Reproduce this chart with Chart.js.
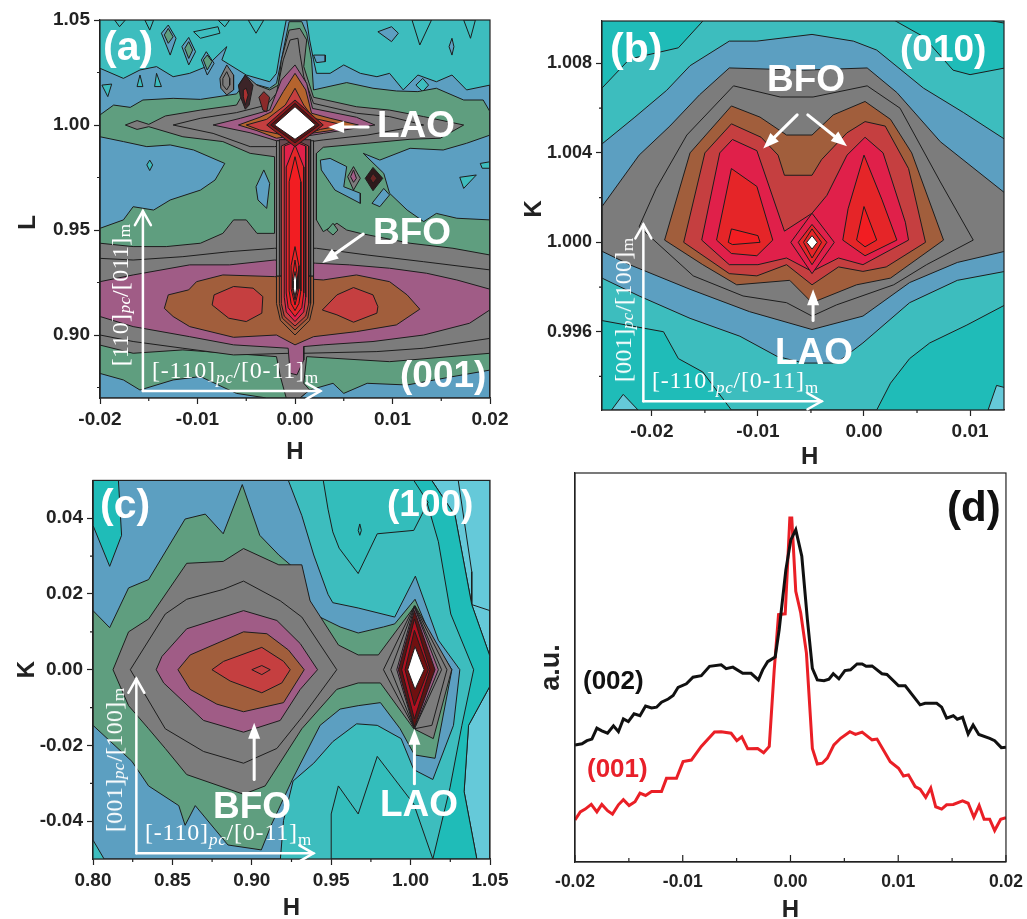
<!DOCTYPE html>
<html><head><meta charset="utf-8"><title>Reciprocal space maps</title>
<script src="https://cdn.jsdelivr.net/npm/chart.js@4"></script>
<style>
html,body{margin:0;padding:0;background:#fff;overflow:hidden}
#stage{position:relative;width:1027px;height:919px;overflow:hidden}
canvas{position:absolute;display:block;filter:blur(.45px)}
.t{position:absolute;font-family:"Liberation Sans",Arial,sans-serif;font-weight:700;color:#fff;line-height:1;white-space:nowrap;z-index:5}
.dir{position:absolute;font-family:"Liberation Serif",serif;color:#fff;font-size:24px;line-height:1;white-space:nowrap;z-index:5;letter-spacing:.8px}
.dir i{font-size:17px;position:relative;top:5px}
.dir span{font-size:17px;position:relative;top:5px}
.v{writing-mode:vertical-rl;transform:rotate(180deg);letter-spacing:.3px}
.v i,.v span{top:0;left:-5px}
</style></head><body><div id="stage">
<canvas id="ca"></canvas><canvas id="cb"></canvas><canvas id="cc"></canvas><canvas id="cd"></canvas>
<div class="t" style="left:103px;top:26px;font-size:41px">(a)</div>
<div class="t" style="left:377px;top:106px;font-size:37px">LAO</div>
<div class="t" style="left:373px;top:213px;font-size:37px">BFO</div>
<div class="t" style="left:400px;top:356px;font-size:37px">(001)</div>
<div class="dir" style="left:152px;top:358px">[-110]<i>pc</i>/[0-11]<span>m</span></div>
<div class="dir v" style="left:108px;top:224px">[110]<i>pc</i>/[011]<span>m</span></div>
<div class="t" style="left:610px;top:28px;font-size:41px">(b)</div>
<div class="t" style="left:900px;top:30px;font-size:37px">(010)</div>
<div class="t" style="left:767px;top:60px;font-size:37px">BFO</div>
<div class="t" style="left:775px;top:333px;font-size:37px">LAO</div>
<div class="dir" style="left:652px;top:368px">[-110]<i>pc</i>/[0-11]<span>m</span></div>
<div class="dir v" style="left:611px;top:238px">[001]<i>pc</i>/[100]<span>m</span></div>
<div class="t" style="left:100px;top:484px;font-size:41px">(c)</div>
<div class="t" style="left:387px;top:485px;font-size:37px">(100)</div>
<div class="t" style="left:213px;top:787px;font-size:37px">BFO</div>
<div class="t" style="left:380px;top:785px;font-size:37px">LAO</div>
<div class="dir" style="left:145px;top:820px">[-110]<i>pc</i>/[0-11]<span>m</span></div>
<div class="dir v" style="left:102px;top:688px">[001]<i>pc</i>/[100]<span>m</span></div>
<div class="t" style="left:947px;top:486px;font-size:42px;color:#111">(d)</div>
<div class="t" style="left:583px;top:667px;font-size:26px;color:#111">(002)</div>
<div class="t" style="left:587px;top:755px;font-size:26px;color:#e8202a">(001)</div>
</div>
<script>
// ---------- palette ----------
const TEAL='#3dbdbe',DTEAL='#1fbcb8',MTEAL='#33bdbb',CYAN='#65c9d9',BLUE='#5c9fc1',GREEN='#5f9e7f',GRAY='#7c7c7c',
      PURPLE='#a05c86',BROWN='#a15e3c',BRICK='#c53f40',CRIM='#e0204a',RED='#e52528',BRIGHT='#f21d22',DARK='#5a1414',WINE='#8e1a1e',WHITE='#ffffff';

// ---------- panel (a) contours, [H, L] ----------
const aTopV1=[[-.0048,1.05],[-.004,1.0437],[-.0032,1.05]];
const aTopV2=[[-.0185,1.05],[-.018,1.0468],[-.0174,1.05]];
const aTopV3=[[-.0154,1.05],[-.0149,1.0452],[-.0145,1.05]];
const aTopV4=[[-.0079,1.05],[-.0072,1.0468],[-.0067,1.05]];
const aTopV5=[[.012,1.05],[.0128,1.0381],[.014,1.05]];
const aTopV6=[[.0173,1.05],[.018,1.0413],[.0185,1.05]];
const aTopBlob=[[-.0104,1.0444],[-.0079,1.0468],[-.0077,1.0437],[-.0097,1.0413]];
const aBlue=[[-.02,1.027],[-.0176,1.0222],[-.0159,1.0262],[-.0142,1.0278],[-.0125,1.023],[-.0108,1.0246],[-.0091,1.0278],[-.007,1.0373],[-.0075,1.031],[-.005,1.0238],[-.0026,1.0206],[-.0019,1.0246],[-.0015,1.0357],[-.0009,1.05],[.0012,1.05],[.0015,1.0405],[.0019,1.031],[.0022,1.0246],[.0036,1.0246],[.005,1.0286],[.0067,1.0246],[.0084,1.023],[.0097,1.0246],[.0111,1.0167],[.0126,1.0238],[.0145,1.0206],[.0161,1.0238],[.0176,1.0167],[.02,1.019],[.02,.87],[-.02,.87]];
const aB1=[[-.0137,1.0437],[-.013,1.0476],[-.0122,1.0413],[-.0128,1.0333]];
const aB1g=[[-.0134,1.0429],[-.013,1.046],[-.0125,1.042],[-.013,1.0389]];
const aB2=[[-.0116,1.0373],[-.0109,1.0417],[-.0102,1.0349],[-.0109,1.0286]];
const aB2g=[[-.0113,1.0365],[-.0109,1.0397],[-.0105,1.0357],[-.0109,1.0317]];
const aB3=[[-.0096,1.031],[-.0091,1.0349],[-.0083,1.0294],[-.009,1.0238]];
const aB3g=[[-.0094,1.031],[-.009,1.0333],[-.0085,1.0302],[-.009,1.0262]];
const aT1=[[-.0162,1.0183],[-.0159,1.0238],[-.0156,1.0183]];
const aT2=[[-.0144,1.0183],[-.0142,1.0246],[-.0137,1.0183]];
const aT3=[[-.0198,1.019],[-.0188,1.0195],[-.0192,1.0135]];
const aT4=[[.0124,1.019],[.0131,1.0222],[.0137,1.019],[.0131,1.0159]];
const aR1=[[.0085,1.0444],[.0099,1.0468],[.0106,1.0437],[.0099,1.0397]];
const aR2=[[.0019,1.0333],[.0031,1.0333],[.0031,1.0302],[.0022,1.0297]];
const aR3=[[.0158,1.0373],[.0161,1.0413],[.0163,1.0373],[.0161,1.0333]];
const aGreen=[[-.02,1.0048],[-.0186,1.0095],[-.0169,1.0084],[-.0156,1.0119],[-.0125,1.0127],[-.0097,1.0122],[-.006,1.0148],[-.005,1.0206],[-.0026,1.0175],[-.0019,1.0198],[-.0014,1.031],[-.0006,1.0492],[.0007,1.0492],[.0012,1.0437],[.0017,1.031],[.0019,1.0167],[.0053,1.0202],[.008,1.0175],[.0104,1.0162],[.0126,1.0159],[.0145,1.0175],[.0173,1.0119],[.0193,1.0119],[.02,1.0063],[.02,.8833],[.0162,.8802],[.0115,.8762],[.0074,.877],[.005,.8722],[.0039,.877],[.0015,.8738],[.0005,.87],[-.0029,.87],[-.006,.8722],[-.0097,.8802],[-.0125,.8786],[-.0159,.8738],[-.0176,.8786],[-.02,.8817]];
const aHoleL=[[-.02,.9944],[-.0176,.9921],[-.0152,.9897],[-.0128,.9905],[-.0104,.9881],[-.0072,.9817],[-.0082,.9738],[-.0097,.969],[-.0128,.9643],[-.0145,.9595],[-.0166,.9611],[-.0176,.9548],[-.02,.9508]];
const aHoleM=[[.0026,.9833],[.0036,.9841],[.0053,.9802],[.005,.9706],[.0067,.9675],[.0067,.9627],[.0041,.969],[.0027,.9786]];
const aHoleR=[[.007,.9865],[.0087,.9833],[.0118,.9889],[.0152,.9881],[.0176,.9913],[.02,.9952],[.02,.9548],[.0166,.9556],[.0145,.9579],[.0132,.954],[.0115,.9595],[.0097,.9675],[.0091,.977]];
const aHoleC=[[-.004,.9706],[-.0032,.9786],[-.0026,.9722],[-.0029,.9603],[-.0038,.9643]];
const aHoleS=[[.0079,.9627],[.0091,.9698],[.0097,.9667],[.0087,.9611]];
const aT5=[[.0169,.9751],[.0186,.9762],[.0173,.9698]];
const aT6=[[.019,.9817],[.02,.9825],[.02,.9794],[.0192,.9794]];
const aT7=[[-.0152,.981],[-.0149,.9833],[-.0146,.981],[-.0149,.9783]];
const aDia1=[[.0054,.9754],[.006,.9802],[.0067,.9746],[.006,.969]];
const aDia1i=[[.0057,.9754],[.006,.9786],[.0063,.9746],[.006,.9727]];
const aDia2=[[.0072,.9746],[.008,.9798],[.009,.9746],[.008,.9687]];
const aDia2i=[[.0077,.9746],[.008,.977],[.0084,.9746],[.008,.9722]];
const aLobe=[[-.0077,1.0222],[-.007,1.0286],[-.0063,1.0238],[-.0063,1.0167],[-.007,1.0143],[-.0076,1.0175]];
const aLobeI=[[-.0074,1.0222],[-.007,1.0254],[-.0067,1.0222],[-.0067,1.019],[-.007,1.0167],[-.0074,1.019]];
const aGray=[[-.0174,1],[-.0162,1.0021],[-.015,1.0003],[-.0133,1.0043],[-.0097,1.0071],[-.006,1.0095],[-.0053,1.0151],[-.0058,1.019],[-.0051,1.0238],[-.0039,1.019],[-.0026,1.0167],[-.0017,1.019],[-.0014,1.031],[-.0006,1.0452],[.0005,1.046],[.0012,1.0405],[.0009,1.0278],[.0019,1.0132],[.0063,1.0087],[.0097,1.0071],[.0132,1.004],[.0173,1],[.0149,.9937],[.0118,.9932],[.0074,.9913],[.0029,.9894],[.0022,.9865],[.0022,.9548],[.0029,.9492],[.0043,.9532],[.0053,.95],[.0067,.9484],[.0118,.9437],[.0162,.9413],[.02,.9381],[.02,.8913],[.0097,.8873],[.0012,.8897],[.0009,.877],[.0015,.8738],[.0005,.87],[-.0009,.87],[-.0015,.8802],[-.0019,.8897],[-.0067,.8913],[-.0115,.8929],[-.0166,.8913],[-.02,.8952],[-.02,.9437],[-.0166,.9421],[-.0132,.9421],[-.0097,.9437],[-.0074,.9484],[-.0063,.9548],[-.005,.9548],[-.0039,.9484],[-.0021,.9484],[-.0021,.9849],[-.0046,.9865],[-.0074,.9921],[-.0115,.9944],[-.015,.9992],[-.0162,.9979]];
const aGreenDia=[[.0033,.95],[.0039,.9532],[.0044,.95],[.0039,.9476]];
const aGray2Up=[[-.0125,1],[-.0097,1.0032],[-.006,1.0059],[-.0029,1.0095],[-.0019,1.0151],[-.0012,1.031],[-.0005,1.0405],[.0003,1.0413],[.0005,1.0341],[.0009,1.023],[.0019,1.0103],[.0063,1.0056],[.0097,1.004],[.0132,1],[.0074,.9952],[.0029,.9929],[-.0021,.9897],[-.0046,.9897],[-.0084,.996]];
const aGray2Lo=[[-.02,.9365],[-.0166,.9357],[-.0115,.9373],[-.0067,.9397],[-.0021,.9413],[.0022,.9413],[.0074,.9381],[.0132,.9349],[.02,.931],[.02,.8984],[.0132,.8937],[.0084,.8921],[.0009,.8913],[-.0005,.8913],[-.0063,.8905],[-.0115,.8937],[-.0166,.8969],[-.02,.9]];
const aPurple=[[-.02,.9254],[-.0166,.9286],[-.0108,.9334],[-.0067,.9334],[-.0021,.9357],[.0021,.9342],[.0056,.9334],[.0097,.9318],[.0135,.9294],[.0166,.9262],[.02,.9218],[.02,.912],[.0179,.9056],[.0132,.9],[.008,.8969],[.0029,.8953],[.0009,.8945],[.0009,.8881],[.0002,.881],[-.0005,.8818],[-.0007,.8937],[-.0063,.8953],[-.0108,.8992],[-.0166,.904],[-.02,.9088]];
const aBrown=[[-.0134,.9127],[-.013,.9191],[-.0109,.9215],[-.0101,.9254],[-.0074,.9286],[-.0021,.9278],[.0029,.9262],[.0063,.9286],[.0097,.9254],[.0115,.9191],[.0128,.9123],[.0104,.9048],[.0063,.9016],[.0019,.8992],[0,.8953],[-.0019,.9],[-.0063,.8989],[-.0108,.904],[-.0125,.9088]];
const aRedL=[[-.0085,.9143],[-.0083,.9191],[-.0063,.9231],[-.0043,.9223],[-.0033,.9183],[-.0034,.9104],[-.005,.9064],[-.0068,.908]];
const aRedR=[[.0028,.9119],[.0043,.9191],[.006,.9226],[.008,.9191],[.0085,.9135],[.0084,.9104],[.006,.9061],[.0043,.9096]];
const aUpPurple=[[-.0084,1],[-.0056,1.0032],[-.0026,1.0071],[-.0014,1.0214],[0,1.0286],[.0012,1.0198],[.0018,1.0079],[.0063,1.0037],[.0082,1],[.0029,.996],[-.0019,.9925],[-.0046,.9963]];
const aUpBrown=[[-.0058,1],[-.0036,1.0037],[-.0024,1.0063],[-.0012,1.0159],[0,1.0246],[.0011,1.0167],[.0017,1.0056],[.0036,1.0032],[.0065,1],[.0036,.9973],[-.0019,.9937],[-.0039,.9973]];
const aUpRed=[[-.005,1],[-.0029,1.0027],[-.001,1.0095],[0,1.0175],[.0009,1.0095],[.0019,1.0032],[.005,1],[.0026,.9979],[.0009,.9952],[-.0012,.9952],[-.0036,.9976]];
const aBlack1=[[-.0058,1.0186],[-.0051,1.0238],[-.0043,1.019],[-.0047,1.0095],[-.0051,1.0075],[-.0056,1.0135]];
const aBlack1i=[[-.0053,1.0167],[-.005,1.0175],[-.0048,1.0143],[-.0051,1.0095],[-.0053,1.0135]];
const aBlack2=[[-.0037,1.0132],[-.0032,1.0159],[-.0026,1.0132],[-.0029,1.0063],[-.0033,1.0071]];
const aCol1Up=[[-.0019,.9925],[.0019,.9925],[.0019,.928],[-.0019,.928]];
const aCol2Up=[[-.0016,.993],[.0016,.993],[.0016,.928],[-.0016,.928]];
const aCol1=[[-.0019,.928],[.0019,.928],[.0019,.915],[.0015,.907],[0,.9],[-.0015,.907],[-.0019,.915]];
const aCol2=[[-.0016,.928],[.0016,.928],[.0016,.915],[.0013,.908],[0,.9024],[-.0013,.908],[-.0016,.915]];
const aCol3=[[-.0014,.99],[0,.993],[.0014,.99],[.0014,.915],[.0011,.909],[0,.9043],[-.0011,.909],[-.0014,.915]];
const aCol4=[[-.0011,.99],[0,.992],[.0011,.99],[.0011,.918],[.0009,.911],[0,.9064],[-.0009,.911],[-.0011,.918]];
const aCol5=[[0,.9905],[.0009,.98],[.0009,.92],[.0007,.913],[0,.9088],[-.0007,.913],[-.0009,.92],[-.0009,.98]];
const aCol6=[[0,.9849],[.0006,.973],[.0006,.921],[.0004,.915],[0,.9116],[-.0004,.915],[-.0006,.921],[-.0006,.973]];
const aCol7=[[0,.9421],[.0004,.933],[.0004,.922],[0,.9143],[-.0004,.922],[-.0004,.933]];
const aCol8=[[0,.9357],[.00025,.928],[.00025,.922],[0,.9167],[-.00025,.922],[-.00025,.928]];
const aCol9=[[0,.9302],[.00016,.926],[.00016,.922],[0,.9183],[-.00016,.922],[-.00016,.926]];
const aHalo=[[-.0029,1],[0,1.0119],[.0029,1],[0,.9897]];
const aHalo2=[[-.0025,1],[0,1.0103],[.0025,1],[0,.9915]];
const aWhite=[[-.0021,1],[0,1.0087],[.0021,1],[0,.9932]];

// ---------- panel (b) contours, [H, K] ----------
const bTopRight=[[.011,1.01],[.0133,1.0098],[.0133,1.01]];
const bTeal=[[-.0247,1.0069],[-.0221,1.0082],[-.0175,1.0087],[-.015,1.01],[.0026,1.01],[.0056,1.0092],[.0084,1.0077],[.01,1.0075],[.0133,1.0078],[.0133,.9972],[.0097,.9963],[.0062,.9955],[.0043,.9948],[.0025,.9937],[.0012,.9925],[-.0125,.9925],[-.0152,.9942],[-.0175,.9948],[-.0189,.996],[-.0247,.9965]];
const bCyan1=[[-.0238,.9925],[-.0227,.9932],[-.0213,.9925]];
const bCyan2=[[.0117,.9925],[.0125,.9936],[.0133,.9935],[.0133,.9925]];
const bBlue=[[-.0247,1.0044],[-.0216,1.0056],[-.0186,1.0068],[-.0164,1.0079],[-.0127,1.009],[-.0101,1.009],[-.0049,1.0093],[-.001,1.009],[.0012,1.0086],[.0056,1.0069],[.0094,1.0058],[.0133,1.0046],[.0133,.9987],[.0088,.9983],[.0043,.9973],[-.0001,.9955],[-.0026,.9946],[-.0057,.9946],[-.0082,.9949],[-.0117,.9958],[-.0164,.9966],[-.0212,.9976],[-.0247,.9984]];
const bGray=[[-.0247,1.0016],[-.0212,1.0039],[-.0183,1.0052],[-.0155,1.0066],[-.0127,1.0078],[-.0057,1.0077],[.0003,1.0078],[.0031,1.0067],[.0072,1.0045],[.0133,1.0022],[.0133,.9996],[.0088,.9991],[.0043,.9982],[-.0001,.9967],[-.0049,.9961],[-.0108,.9969],[-.0164,.9979],[-.0221,.999],[-.0247,.9996]];
const bGray2=[[-.0212,1.0007],[-.0196,1.0024],[-.0167,1.0048],[-.0123,1.007],[-.0079,1.0065],[-.0048,1.0065],[.0003,1.007],[.0034,1.006],[.0072,1.0027],[.0103,1.0001],[.0059,.999],[.0028,.9981],[-.0026,.9972],[-.0049,.9967],[-.0073,.9973],[-.0114,.9976],[-.0161,.9985]];
const bBrown=[[-.0188,1.0001],[-.0164,1.004],[-.0125,1.0061],[-.0098,1.0056],[-.0073,1.0048],[-.0049,1.0048],[-.0029,1.0057],[.0001,1.0063],[.0025,1.0055],[.0045,1.004],[.0075,1.0001],[.0025,.9984],[-.0007,.9981],[-.0049,.9973],[-.007,.9983],[-.012,.9981],[-.0152,.999]];
const bBrick=[[-.017,1],[-.015,1.004],[-.0125,1.0053],[-.0097,1.0047],[-.0081,1.0039],[-.0075,1.003],[-.0049,1.003],[-.004,1.0037],[-.0016,1.0049],[.0001,1.0054],[.002,1.0052],[.0042,1.0033],[.0058,1],[.0021,.9989],[-.0001,.9987],[-.0024,.9989],[-.0049,.9981],[-.0073,.999],[-.0101,.9985],[-.0127,.9986]];
const bCrim=[[-.0153,1.0001],[-.0136,1.004],[-.0124,1.0046],[-.0101,1.0041],[-.0075,1.0005],[-.0049,1.0013],[-.0035,1.0021],[-.0016,1.0039],[.0001,1.0047],[.0018,1.004],[.0039,1.0009],[.0042,1.0001],[-.0001,.999],[-.0024,.9993],[-.0049,.9987],[-.0073,.9993],[-.01,.999],[-.0127,.999]];
const bRedL=[[-.0139,1.0001],[-.0125,1.0033],[-.0101,1.0025],[-.0086,1.0001],[-.0101,.9994],[-.0125,.9995]];
const bHotL=[[-.0128,1],[-.0125,1.0006],[-.01,1.0003],[-.0098,1],[-.0124,.9999]];
const bRedR=[[-.002,1.0001],[-.0015,1.0015],[0,1.0039],[.0017,1.0019],[.0031,1.0001],[.0001,.9994]];
const bHotR=[[-.0007,1.0001],[0,1.0016],[.0012,1.0001],[.0001,.9998]];
const bDia1=[[-.0069,1],[-.0049,1.0013],[-.0028,1],[-.0049,.9986]];
const bDia2=[[-.0062,1],[-.0049,1.0008],[-.0035,1],[-.0049,.999]];
const bDia3=[[-.0057,1],[-.0049,1.0006],[-.004,1],[-.0049,.9993]];
const bDia4=[[-.0054,1],[-.0049,1.0003],[-.0044,1],[-.0049,.9997]];

// ---------- panel (c) contours, [H, K] ----------
const cCyan=[[1.0133,.05],[1.05,.05],[1.05,-.05],[1.0417,-.05],[1.0337,-.0322],[1.0365,-.0147],[1.05,-.0043],[1.05,.0035],[1.0385,.0172],[1.028,.0407]];
const cCyanLine=[[1.03,.05],[1.0385,.0259],[1.0385,.0172],[1.05,.0156],[1.05,.05]];
const cDTeal=[[1.0007,.05],[1.0133,.05],[1.028,.0407],[1.0385,.0172],[1.05,.0035],[1.05,-.0043],[1.0365,-.0147],[1.0337,-.0322],[1.0417,-.05],[1.014,-.05],[1.0248,-.0312],[1.0323,-.0147],[1.0397,0],[1.0253,.0147],[1.0175,.0338],[1.0103,.0442]];
const cMid1=[[.945,.05],[.948,.0424],[.951,.0364],[.955,.0321],[.967,.0254],[.979,.0359],[1.002,.0368],[1.011,.0442],[1.002,.05]];
const cMid2=[[.95,-.05],[.95,-.0381],[.9545,-.0307],[.967,-.0381],[.979,-.0229],[1.002,-.0355],[1.014,-.05]];
const cOval=[[.967,.0368],[.968,.0385],[.969,.0368],[.968,.0355]];
const cBlue=[[.816,.05],[.923,.05],[.9315,.0407],[.939,.0303],[.948,.0199],[.951,.0177],[.967,.0163],[.99,.0139],[1.003,.0247],[1.0175,.0078],[1.031,0],[1.027,-.0147],[1.014,-.029],[1.002,-.0264],[.994,-.0182],[.979,-.0147],[.966,-.0143],[.951,-.019],[.939,-.0247],[.926,-.0294],[.92,-.0398],[.918,-.05],[.807,-.05],[.8,-.045],[.8,.05]];
const cCorner=[[.8,.05],[.816,.05],[.818,.0355],[.8105,.0273],[.8,.0381]];
const cGreen=[[.8,.0156],[.8105,.0111],[.8224,.0216],[.835,.0238],[.858,.0398],[.8707,.0411],[.882,.0359],[.894,.0489],[.905,.0355],[.917,.0303],[.9315,.0251],[.939,.0147],[.9556,.0113],[.967,.0097],[.983,.0113],[.99,.0121],[1.0028,.0186],[1.012,.0095],[1.026,0],[1.0154,-.0234],[1.0024,-.0225],[.9934,-.0156],[.981,-.0087],[.967,-.0095],[.9556,-.0104],[.943,-.0147],[.926,-.0286],[.9126,-.0407],[.906,-.0476],[.885,-.0463],[.8644,-.0359],[.858,-.0411],[.854,-.0359],[.835,-.0307],[.8245,-.0242],[.8,-.0147]];
const cGray=[[.8126,0],[.8224,.01],[.835,.0134],[.859,.0281],[.882,.0286],[.8948,.032],[.917,.0277],[.9315,.0277],[.9367,.0182],[.9546,.0065],[.967,.0039],[.9797,.0039],[1.0028,.0169],[1.0259,0],[1.0143,-.0182],[1.002,-.0156],[.981,-.0035],[.967,-.0035],[.9535,-.0052],[.9315,-.0156],[.9084,-.0307],[.8948,-.0329],[.859,-.0277],[.8455,-.0208],[.835,-.0156],[.8224,-.0095]];
const cGray2=[[.8235,0],[.8455,.0147],[.859,.0186],[.882,.0212],[.8948,.0234],[.9179,.0182],[.9315,.0139],[.9535,0],[.9315,-.0126],[.9158,-.0208],[.8948,-.0247],[.8696,-.0216],[.8455,-.0156]];
const cPurple=[[.8398,0],[.8434,.0035],[.859,.0108],[.8948,.0156],[.9158,.013],[.9305,.0069],[.9414,0],[.9305,-.0052],[.9179,-.0134],[.8948,-.0165],[.8696,-.0134],[.8445,-.0035]];
const cBrown=[[.8535,0],[.8612,.0039],[.8948,.01],[.9095,.0095],[.9231,.0052],[.933,0],[.92,-.0087],[.8948,-.0111],[.878,-.0091],[.8612,-.0052]];
const cBrick=[[.8749,0],[.8822,.0022],[.9063,.0059],[.92,.0022],[.9242,0],[.9189,-.0035],[.9063,-.0061],[.8864,-.003]];
const cCore=[[.9,0],[.9063,.0011],[.9116,0],[.9063,-.0013]];
const cL1=[[.9829,0],[1.0024,.0169],[1.0229,0],[1.0134,-.0147],[1.0024,-.0156]];
const cL2=[[.9875,0],[1.0024,.0167],[1.0195,0],[1.0024,-.0156]];
const cL3=[[.9913,0],[1.0024,.0165],[1.0175,0],[1.0024,-.0156]];
const cL4=[[.9923,0],[1.0024,.0156],[1.0154,0],[1.0024,-.0152]];
const cL5=[[.9944,0],[1.0024,.0134],[1.0122,0],[1.0024,-.013]];
const cL6=[[.9965,0],[1.0024,.0104],[1.0112,0],[1.0024,-.0095]];
const cL7=[[.9982,0],[1.0028,.0061],[1.0085,0],[1.0028,-.0052]];

// ---------- panel (d) line profiles ----------
const hBlack=[-.02,-.01935,-.01889,-.01843,-.01797,-.01751,-.01698,-.01643,-.01597,-.01551,-.01505,-.01452,-.01397,-.01345,-.01289,-.01243,-.01197,-.01135,-.01089,-.01043,-.00966,-.00905,-.00828,-.00751,-.00643,-.00597,-.00535,-.00443,-.00366,-.00298,-.00258,-.00212,-.00142,-.00105,-.00043,.00003,.00049,.00105,.00157,.00203,.00249,.00311,.00357,.00397,.00449,.00505,.00557,.00618,.00665,.00702,.00757,.00849,.00895,.01003,.01065,.01203,.01249,.01357,.01403,.01449,.01511,.01548,.01597,.01649,.01695,.01748,.01849,.01895,.01957,.02];
const yBlack=[30.1,30.4,31.2,31.6,34.4,33.7,33.1,35,33.5,36.8,36.1,38.1,37.6,40.1,39.6,39.8,41.1,41.9,42.8,44.9,45.8,47.5,47.9,50.3,50.7,49.7,50.1,48.5,48.5,46.8,49.4,51.5,52.7,59.7,75.1,82.8,85.4,78.6,62.3,49.8,46.8,46.6,47,48.4,47.1,49.2,49.4,50.9,50.9,50.3,50.4,48.4,48.2,45.3,45.3,40.4,40.8,40.8,39.8,37,37.6,36.7,37.2,32.9,35.2,32.8,31.8,31.2,29.4,29.5];
const hRed=[-.02,-.01951,-.01905,-.01849,-.01797,-.01751,-.01698,-.01652,-.01597,-.01551,-.01498,-.01443,-.01397,-.01345,-.01289,-.01197,-.01151,-.01058,-.00997,-.0092,-.00828,-.00705,-.00643,-.00551,-.00498,-.00452,-.00397,-.00305,-.00249,-.00197,-.00151,-.00111,-.00049,-.00006,.00012,.00049,.00095,.00148,.00203,.00249,.00295,.00342,.00403,.00465,.00551,.00603,.00665,.00757,.00803,.00926,.01003,.01049,.01095,.01157,.01203,.01255,.01302,.01348,.01403,.01449,.01511,.01597,.01649,.01702,.01751,.01797,.01849,.01895,.01951,.02];
const yRed=[10.8,12.9,13.6,14.8,12.9,14.8,13.2,12.3,14.7,16,14.5,15.5,17.7,17.1,18.1,18.1,21.5,21.5,25.8,26.2,29.7,33.4,33.5,33.1,31.2,32.2,29.1,29.2,28.1,29.7,49.4,63.6,63.8,88.4,88.4,69.6,64,53.7,29.2,25.2,25.4,26.7,30.1,31.8,33.5,32.8,33.4,31.4,31.6,25.8,24.1,22.1,22.4,19.4,18.7,16.6,19,14.2,13.6,14.7,14.8,15.7,15.1,11.5,14.5,11,11,8.1,11,11.4];

// ---------- tick values ----------
const aXTicks=[-.02,-.015,-.01,-.005,0,.005,.01,.015,.02], aXLabels=[-.02,-.01,0,.01,.02];
const aYTicks=[.875,.9,.925,.95,.975,1,1.025,1.05], aYLabels=[.9,.95,1,1.05];
const bXTicks=[-.02,-.015,-.01,-.005,0,.005,.01], bXLabels=[-.02,-.01,0,.01];
const bYTicks=[.994,.996,.998,1,1.002,1.004,1.006,1.008], bYLabels=[.996,1,1.004,1.008];
const cXTicks=[.8,.825,.85,.875,.9,.925,.95,.975,1,1.025,1.05], cXLabels=[.8,.85,.9,.95,1,1.05];
const cYTicks=[-.04,-.03,-.02,-.01,0,.01,.02,.03,.04], cYLabels=[-.04,-.02,0,.02,.04];
const dXTicks=aXTicks, dXLabels=aXLabels;

// ---------- annotation arrows: [x0,y0,x1,y1,open head] ----------
const aArrows=[[-.0156,.8733,-.0156,.959,1],[-.0156,.8733,.0026,.8733,1],[.0075,.999,.0034,.999,0],[.007,.9481,.0028,.9343,0]];
const bArrows=[[-.0208,.99289,-.0208,1.0008,1],[-.0208,.99289,-.004,.99289,1],[-.0063,1.0057,-.0095,1.0042,0],[-.0053,1.0057,-.0016,1.0043,0],[-.0048,.9965,-.0048,.9979,0]];
const cArrows=[[.8273,-.0485,.8273,-.0024,1],[.8273,-.0485,.9388,-.0485,1],[.9015,-.029,.9015,-.014,0],[1.0024,-.0301,1.0024,-.0156,0]];

// ---------- draw order ----------
const aLayers=[[aTopV1,TEAL],[aTopV2,TEAL],[aTopV3,TEAL],[aTopV4,TEAL],[aTopV5,TEAL],[aTopV6,TEAL],[aTopBlob,TEAL],
 [aBlue,BLUE],[aB1,BLUE],[aB1g,GREEN],[aB2,BLUE],[aB2g,GREEN],[aB3,BLUE],[aB3g,GREEN],[aT1,TEAL],[aT2,TEAL],[aT3,TEAL],[aT4,TEAL],[aR1,BLUE],[aR2,BLUE],[aR3,BLUE],
 [aGreen,GREEN],[aHoleL,BLUE],[aHoleM,BLUE],[aHoleR,BLUE],[aHoleC,BLUE],[aHoleS,BLUE],[aT5,TEAL],[aT6,TEAL],[aT7,TEAL],[aDia1,GRAY],[aDia1i,PURPLE],[aDia2,'#2e1a1c'],[aDia2i,'#6a2525'],
 [aGray,GRAY],[aLobe,GRAY],[aLobeI,GRAY],[aGreenDia,GREEN],[aGray2Up,GRAY],[aGray2Lo,GRAY],[aPurple,PURPLE],[aBrown,BROWN],[aRedL,BRICK],[aRedR,BRICK],
 [aUpPurple,PURPLE],[aUpBrown,'#b5642e'],[aBlack1,'#3c2428'],[aBlack1i,'#a83030'],[aBlack2,'#8a2a2a'],[aCol1Up,GRAY],[aCol2Up,'#6a4a50'],[aCol1,BROWN],[aCol2,'#ab4a38'],[aCol3,BRICK],[aCol4,CRIM],[aCol5,RED],[aCol6,BRIGHT],[aCol7,RED],[aCol8,BRIGHT],[aCol9,WHITE],
 [aUpRed,BRICK],[aHalo,WINE],[aHalo2,DARK],[aWhite,WHITE]];
const bLayers=[[bTopRight,TEAL],[bTeal,TEAL],[bCyan1,CYAN],[bCyan2,CYAN],[bBlue,BLUE],[bGray,GRAY],[bGray2,GRAY],[bBrown,BROWN],[bBrick,BRICK],[bCrim,CRIM],[bRedL,RED],[bHotL,BRIGHT],[bRedR,RED],[bHotR,BRIGHT],[bDia1,CRIM],[bDia2,RED],[bDia3,RED],[bDia4,WHITE]];
const cLayers=[[cCyan,CYAN],[cCyanLine,CYAN],[cDTeal,DTEAL],[cMid1,MTEAL],[cMid2,MTEAL],[cOval,DTEAL],[cBlue,BLUE],[cCorner,DTEAL],[cGreen,GREEN],[cGray,GRAY],[cGray2,GRAY],[cPurple,PURPLE],[cBrown,BROWN],[cBrick,BRICK],[cCore,BRICK],[cL1,GRAY],[cL2,GRAY],[cL3,PURPLE],[cL4,DARK],[cL5,'#b01020'],[cL6,'#701010'],[cL7,WHITE]];

// ---------- helpers ----------
const LINE='#1d1d1d';
function polySet(layer,i){
  const pts=layer[0].concat([layer[0][0]]).map(p=>({x:p[0],y:p[1]}));
  return {type:'scatter',data:pts,showLine:true,fill:'shape',backgroundColor:layer[1],borderColor:LINE,borderWidth:1,pointRadius:0,pointHoverRadius:0,tension:0,order:-i};
}
const includesVal=(arr,v)=>arr.some(a=>Math.abs(a-v)<1e-9);
function axis(cfg){
  return {
    type:'linear',min:cfg.min,max:cfg.max,position:cfg.pos,
    afterBuildTicks:s=>{s.ticks=cfg.ticks.map(v=>({value:v,major:includesVal(cfg.labels,v)}));},
    afterFit:s=>{if(cfg.pos==='bottom')s.height=cfg.size;else s.width=cfg.size;},
    title:{display:cfg.title!=null,text:cfg.title||'',color:'#222',font:{family:'"Liberation Sans",Arial,sans-serif',weight:'bold',size:cfg.tsize||24},padding:cfg.tpad},
    grid:{drawOnChartArea:false,tickLength:6,tickWidth:1.2,tickColor:c=>(!cfg.inward&&c.tick&&c.tick.major)?'#222':'rgba(0,0,0,0)'},
    border:{display:true,color:'#222',width:1.2},
    ticks:{autoSkip:false,maxRotation:0,color:'#222',padding:cfg.lpad==null?4:cfg.lpad,font:{family:'"Liberation Sans",Arial,sans-serif',weight:'bold',size:cfg.fs||19},
      callback:v=>includesVal(cfg.labels,v)?v.toFixed(cfg.dec):''}
  };
}
function arrow(ctx,x0,y0,x1,y1,open){
  const a=Math.atan2(y1-y0,x1-x0),L=open?14:16,W=open?8:6;
  ctx.strokeStyle='#fff';ctx.fillStyle='#fff';ctx.lineWidth=open?2.5:3;ctx.lineCap='round';
  ctx.beginPath();ctx.moveTo(x0,y0);
  if(open){ctx.lineTo(x1,y1);ctx.stroke();
    ctx.beginPath();ctx.moveTo(x1-L*Math.cos(a)+W*Math.sin(a),y1-L*Math.sin(a)-W*Math.cos(a));ctx.lineTo(x1,y1);
    ctx.lineTo(x1-L*Math.cos(a)-W*Math.sin(a),y1-L*Math.sin(a)+W*Math.cos(a));ctx.stroke();
  }else{ctx.lineTo(x1-L*.8*Math.cos(a),y1-L*.8*Math.sin(a));ctx.stroke();
    ctx.beginPath();ctx.moveTo(x1,y1);ctx.lineTo(x1-L*Math.cos(a)+W*Math.sin(a),y1-L*Math.sin(a)-W*Math.cos(a));
    ctx.lineTo(x1-L*Math.cos(a)-W*Math.sin(a),y1-L*Math.sin(a)+W*Math.cos(a));ctx.closePath();ctx.fill();}
}
function panelPlugin(bg,arrows){
  return {id:'panel',
    beforeDatasetsDraw(ch){const a=ch.chartArea,c=ch.ctx;if(bg){c.save();c.fillStyle=bg;c.fillRect(a.left,a.top,a.right-a.left,a.bottom-a.top);c.restore();}},
    afterDraw(ch){const a=ch.chartArea,c=ch.ctx,sx=ch.scales.x,sy=ch.scales.y;c.save();
      c.strokeStyle='#222';c.lineWidth=1.2;c.strokeRect(a.left,a.top,a.right-a.left,a.bottom-a.top);
      c.beginPath();
      sx.ticks.forEach(t=>{if(!t.major){const p=sx.getPixelForValue(t.value);c.moveTo(p,a.bottom);c.lineTo(p,a.bottom+3);}});
      sy.ticks.forEach(t=>{if(!t.major){const p=sy.getPixelForValue(t.value);c.moveTo(a.left,p);c.lineTo(a.left-3,p);}});
      c.stroke();
      (arrows||[]).forEach(r=>arrow(c,sx.getPixelForValue(r[0]),sy.getPixelForValue(r[1]),sx.getPixelForValue(r[2]),sy.getPixelForValue(r[3]),r[4]));
      c.restore();}
  };
}
function make(id,box,datasets,scales,padding,plugin){
  const el=document.getElementById(id);
  el.style.left=box[0]+'px';el.style.top=box[1]+'px';el.width=box[2];el.height=box[3];
  el.style.width=box[2]+'px';el.style.height=box[3]+'px';
  return new Chart(el,{type:'scatter',data:{datasets},plugins:[plugin],
    options:{responsive:false,animation:false,devicePixelRatio:1,layout:{padding},
      plugins:{legend:{display:false},tooltip:{enabled:false}},events:[],scales}});
}

make('ca',[0,0,515,470],aLayers.map(polySet),{
  x:axis({min:-.02,max:.02,pos:'bottom',ticks:aXTicks,labels:aXLabels,dec:2,size:72,title:'H',tpad:{top:0,bottom:3}}),
  y:axis({min:.87,max:1.05,pos:'left',ticks:aYTicks,labels:aYLabels,dec:2,size:100,title:'L    ',tpad:{top:14,bottom:0}})
},{left:0,right:25,top:20,bottom:0},panelPlugin(TEAL,aArrows));

make('cb',[520,0,507,472],bLayers.map(polySet),{
  x:axis({min:-.0247,max:.0132,pos:'bottom',ticks:bXTicks,labels:bXLabels,dec:2,size:62,title:'  H',tpad:{top:0,bottom:0}}),
  y:axis({min:.9925,max:1.0099,pos:'left',ticks:bYTicks,labels:bYLabels,dec:3,size:82,title:'  K',tpad:{top:0,bottom:0},fs:18}),
},{left:0,right:23,top:21,bottom:0},panelPlugin(DTEAL,bArrows));

make('cc',[0,465,515,460],cLayers.map(polySet),{
  x:axis({min:.8,max:1.05,pos:'bottom',ticks:cXTicks,labels:cXLabels,dec:2,size:66,title:'H',tpad:{top:0,bottom:2}}),
  y:axis({min:-.05,max:.05,pos:'left',ticks:cYTicks,labels:cYLabels,dec:2,size:93,title:'K',tpad:{top:13,bottom:0}})
},{left:0,right:25,top:10,bottom:0},panelPlugin(TEAL,cArrows));

make('cd',[520,465,507,460],[
  {type:'scatter',label:'(002)',data:hBlack.map((h,i)=>({x:h,y:yBlack[i]})),showLine:true,borderColor:'#111',borderWidth:3,pointRadius:0,tension:0,order:1},
  {type:'scatter',label:'(001)',data:hRed.map((h,i)=>({x:h,y:yRed[i]})),showLine:true,borderColor:'#ea1f26',borderWidth:3,pointRadius:0,tension:0,order:2}
],{
  x:axis({min:-.02,max:.02,pos:'bottom',ticks:dXTicks,labels:dXLabels,dec:2,size:63,title:'H',tpad:{top:0,bottom:0},fs:17.5,inward:true}),
  y:{type:'linear',min:0,max:100,position:'left',afterFit:s=>{s.width=55;},
     title:{display:true,text:'a.u.',color:'#222',font:{family:'"Liberation Sans",Arial,sans-serif',weight:'bold',size:27},padding:{top:15,bottom:0}},
     grid:{display:false},border:{display:true,color:'#222',width:1.2},ticks:{display:false}}
},{left:0,right:19,top:8,bottom:0},{id:'frame',afterDraw(ch){const a=ch.chartArea,c=ch.ctx,sx=ch.scales.x;c.save();c.strokeStyle='#222';c.lineWidth=1.2;c.strokeRect(a.left,a.top,a.right-a.left,a.bottom-a.top);
  c.beginPath();sx.ticks.forEach(t=>{const p=sx.getPixelForValue(t.value);c.moveTo(p,a.bottom);c.lineTo(p,a.bottom-(t.major?7:4));});c.stroke();c.restore();}});
</script></body></html>
